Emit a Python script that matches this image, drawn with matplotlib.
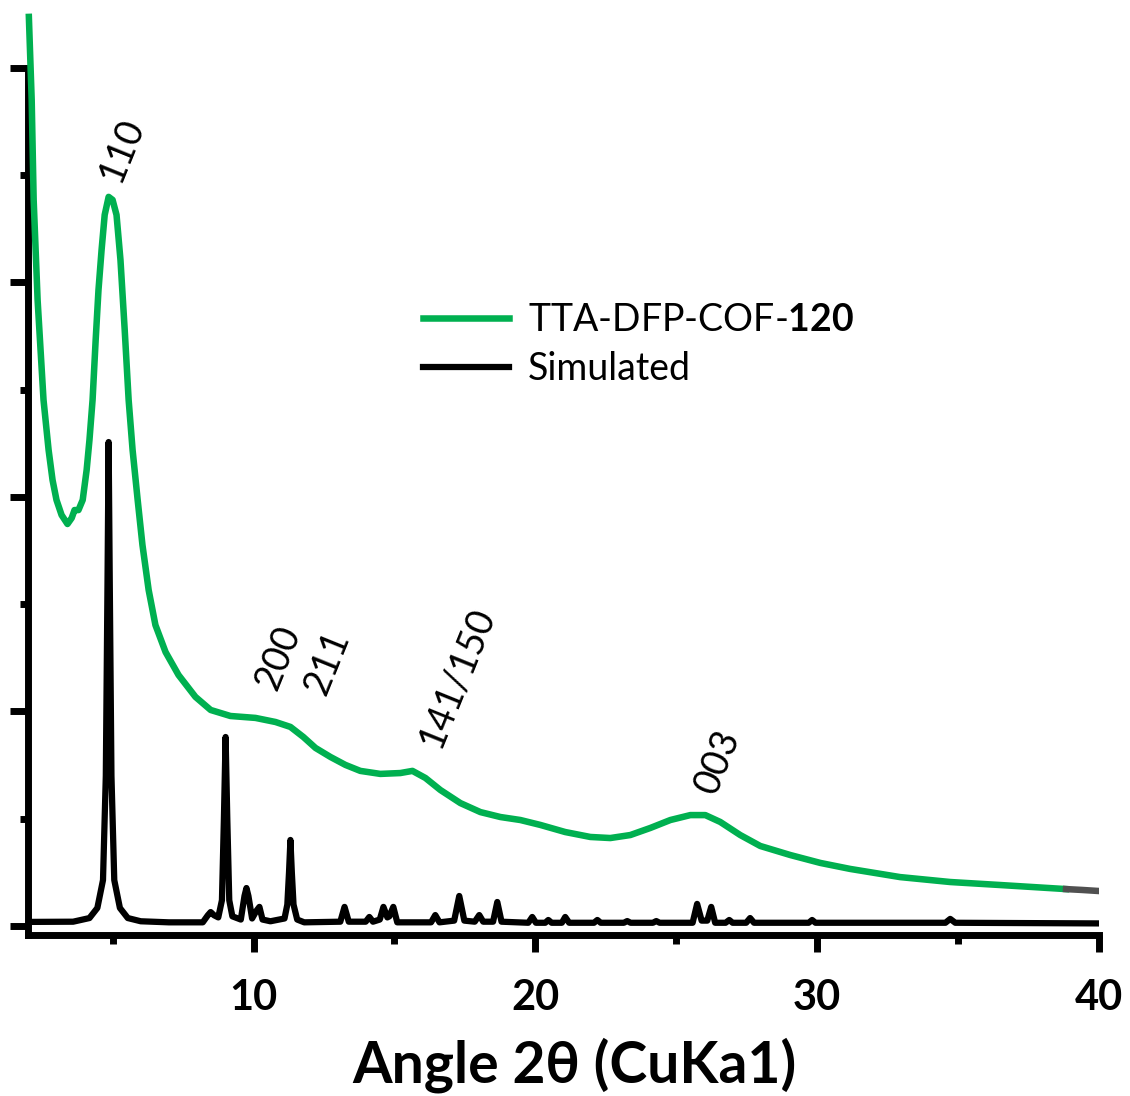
import matplotlib
matplotlib.use('Agg')
import matplotlib.pyplot as plt
from matplotlib.ticker import MultipleLocator

plt.rcParams['font.family'] = ['Lato', 'DejaVu Sans']
plt.rcParams['mathtext.fontset'] = 'custom'
plt.rcParams['mathtext.rm'] = 'Lato'
plt.rcParams['mathtext.bf'] = 'Lato:bold'

exp_x = [2.03, 2.13, 2.20, 2.34, 2.55, 2.73, 2.87, 3.01, 3.19, 3.40, 3.55, 3.65, 3.79,
         3.94, 4.08, 4.18, 4.29, 4.40, 4.50, 4.61, 4.72, 4.86, 5.00, 5.14, 5.28, 5.43,
         5.57, 5.71, 5.89, 6.06, 6.28, 6.52, 6.88, 7.34, 7.94, 8.48, 9.18, 10.07, 10.78,
         11.31, 11.77, 12.20, 12.73, 13.26, 13.79, 14.50, 15.21, 15.64, 16.10, 16.63,
         17.34, 18.05, 18.76, 19.47, 20.18, 21.06, 21.95, 22.66, 23.37, 24.08, 24.79,
         25.50, 26.03, 26.56, 27.27, 27.98, 29.04, 30.11, 31.17, 32.94, 34.72, 36.49,
         38.83]
exp_y = [4238, 3851, 3385, 2918, 2452, 2219, 2079, 1986, 1916, 1874, 1902, 1939, 1939,
         1986, 2126, 2266, 2452, 2732, 2965, 3152, 3315, 3399, 3385, 3315, 3105, 2779,
         2452, 2219, 1986, 1776, 1566, 1403, 1277, 1170, 1068, 1007, 979, 970, 951,
         928, 881, 830, 788, 751, 723, 709, 713, 723, 690, 634,
         573, 531, 508, 494, 471, 438, 415, 410, 424, 457, 494,
         517, 517, 485, 424, 373, 331, 294, 266, 228, 205, 191,
         172]
# end of the scan, drawn in grey
tail_x = [38.83, 39.4, 40.0]
tail_y = [172, 168, 163]

# simulated pattern (black)
sim_x = [2.0, 3.6, 4.18, 4.46, 4.66, 4.76, 4.82, 4.86, 4.90, 4.96, 5.06, 5.26, 5.54,
         6.0, 7.0, 8.2, 8.38, 8.48, 8.6, 8.75, 8.88, 8.95, 9.01, 9.07, 9.14, 9.25,
         9.55, 9.68, 9.75, 9.82, 9.95, 10.1, 10.21, 10.32, 10.6, 11.1, 11.2, 11.26,
         11.31, 11.36, 11.42, 11.55, 11.8, 13.08, 13.23, 13.38, 13.98, 14.11, 14.24,
         14.48, 14.61, 14.75, 14.82, 14.96, 15.1, 16.3, 16.45, 16.6, 17.12, 17.3, 17.48,
         17.85, 18.01, 18.15, 18.5, 18.65, 18.8, 19.75, 19.89, 20.02, 20.35, 20.46,
         20.58, 20.94, 21.06, 21.2, 22.08, 22.2, 22.32, 23.14, 23.26, 23.38, 24.17,
         24.29, 24.41, 25.58, 25.74, 25.9, 26.1, 26.24, 26.38, 26.75, 26.88, 27.0,
         27.48, 27.62, 27.76, 29.7, 29.82, 29.94, 34.55, 34.72, 34.9, 40.0]
sim_y = [19, 20, 37, 84, 214, 700, 1600, 2256, 1600, 700, 214, 84, 37,
         22, 17, 17, 50, 65, 50, 40, 120, 500, 881, 500, 120, 45,
         30, 140, 177, 140, 35, 70, 89, 30, 22, 35, 100, 250,
         401, 250, 100, 30, 17, 20, 89, 20, 20, 42, 20,
         30, 89, 40, 45, 89, 17, 17, 51, 17, 25, 140, 25,
         20, 51, 20, 20, 112, 20, 15, 42, 15, 15, 28,
         15, 15, 42, 15, 15, 28, 15, 15, 23, 15, 15,
         23, 15, 15, 103, 25, 25, 89, 15, 15, 28, 15,
         15, 37, 15, 15, 28, 15, 15, 33, 15, 12]

hkl_labels = ['110', '200', '211', '141/150', '003']
hkl_x = [5.32, 10.89, 12.62, 17.23, 26.49]
hkl_y = [3618, 1249, 1226, 1161, 764]

green = '#00B050'

fig = plt.figure(figsize=(11.3, 10.96), dpi=100)
ax = fig.add_axes([0.0248, 0.1469, 0.9478, 0.7911])

l_sim, = ax.plot(sim_x, sim_y, color='black', lw=4.5, zorder=2, label='Simulated')
l_exp, = ax.plot(exp_x, exp_y, color=green, lw=4.7, zorder=3, clip_on=False,
                 label='TTA-DFP-COF-$\\mathbf{120}$')
ax.plot(tail_x, tail_y, color='#505050', lw=4.7, zorder=3)

for lab, x, y in zip(hkl_labels, hkl_x, hkl_y):
    ax.text(x, y, lab, fontsize=27, rotation=68, ha='center', va='center')

ax.set_xlim(2, 40)
ax.set_ylim(-42, 4000)
ax.xaxis.set_major_locator(MultipleLocator(10))
ax.xaxis.set_minor_locator(MultipleLocator(5))
ax.yaxis.set_major_locator(MultipleLocator(1000))
ax.yaxis.set_minor_locator(MultipleLocator(500))

for s in ['top', 'right']:
    ax.spines[s].set_visible(False)
for s in ['left', 'bottom']:
    ax.spines[s].set_linewidth(5)

ax.tick_params(which='both', direction='out', width=5)
ax.tick_params(axis='x', which='major', length=12, labelsize=30, pad=20)
ax.tick_params(axis='x', which='minor', length=6.5)
ax.tick_params(axis='y', which='major', length=13, labelleft=False)
ax.tick_params(axis='y', which='minor', length=6)
for t in ax.get_xticklabels():
    t.set_fontweight('bold')

ax.set_xlabel('Angle 2θ (CuKa1)', fontsize=41, fontweight='bold')
ax.xaxis.set_label_coords(0.51, -0.118)

ax.legend(handles=[l_exp, l_sim], fontsize=27, frameon=False, loc='upper left',
          bbox_to_anchor=(423 / 1130, 1 - 302 / 1096), bbox_transform=fig.transFigure,
          handlelength=2.3, handletextpad=0.5, labelspacing=0.35, borderpad=0,
          borderaxespad=0)

fig.savefig('out.png', dpi=100)
